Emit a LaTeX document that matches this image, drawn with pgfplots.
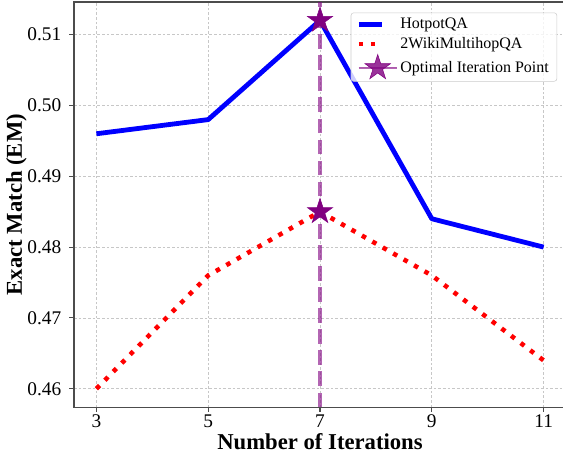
\documentclass[border=0pt]{standalone}
\usepackage{pgfplots}
\pgfplotsset{compat=1.18}
\usepackage{fontspec}
\setmainfont{Liberation Serif}
\definecolor{mplpurple}{RGB}{128,0,128}
\definecolor{mplblue}{RGB}{0,0,255}
\definecolor{mplred}{RGB}{255,0,0}
\pgfdeclareplotmark{fstar}{%
  \pgfpathmoveto{\pgfqpointpolar{90}{\pgfplotmarksize}}%
  \pgfpathlineto{\pgfqpointpolar{126}{0.382\pgfplotmarksize}}%
  \pgfpathlineto{\pgfqpointpolar{162}{\pgfplotmarksize}}%
  \pgfpathlineto{\pgfqpointpolar{198}{0.382\pgfplotmarksize}}%
  \pgfpathlineto{\pgfqpointpolar{234}{\pgfplotmarksize}}%
  \pgfpathlineto{\pgfqpointpolar{270}{0.382\pgfplotmarksize}}%
  \pgfpathlineto{\pgfqpointpolar{306}{\pgfplotmarksize}}%
  \pgfpathlineto{\pgfqpointpolar{342}{0.382\pgfplotmarksize}}%
  \pgfpathlineto{\pgfqpointpolar{18}{\pgfplotmarksize}}%
  \pgfpathlineto{\pgfqpointpolar{54}{0.382\pgfplotmarksize}}%
  \pgfpathclose
  \pgfusepathqfillstroke}
\begin{document}
\begin{tikzpicture}
\begin{axis}[
  scale only axis,
  width=368.8pt, height=303.75pt,
  xmin=2.6, xmax=11.4,
  ymin=0.4574, ymax=0.5146,
  xtick={3,5,7,9,11},
  ytick={0.46,0.47,0.48,0.49,0.50,0.51},
  yticklabel style={xshift=-2.5pt, /pgf/number format/.cd, fixed, fixed zerofill, precision=2},
  xticklabel style={yshift=1.5pt},
  /pgf/number format/assume math mode=true,
  tick label style={font=\fontsize{14.5}{16}\selectfont},
  tick align=outside, tick pos=left,
  major tick length=3.5pt,
  every tick/.style={black!70, line width=0.8pt},
  axis line style={black!70, line width=0.9pt},
  grid=major,
  major grid style={dash pattern=on 2pt off 1.5pt, black!22, line width=0.5pt},
  xlabel={Number of Iterations},
  ylabel={Exact Match (EM)},
  every axis x label/.style={at={(axis description cs:0.5,-0.084)}, anchor=center, font=\fontsize{17}{20}\selectfont\bfseries},
  every axis y label/.style={at={(axis description cs:-0.117,0.5)}, rotate=90, anchor=center, font=\fontsize{17}{20}\selectfont\bfseries},
  legend style={at={(0.982,0.974)}, anchor=north east,
    font=\fontsize{12}{14}\selectfont,
    draw=black!20, rounded corners=2pt, fill=white, fill opacity=0.8, text opacity=1,
    inner xsep=4pt, inner ysep=2pt, row sep=1pt},
  legend cell align=left,
]
\addplot[mplblue, line width=3.6pt, line join=round] coordinates {
  (3,0.496) (5,0.498) (7,0.512) (9,0.484) (11,0.480)};
\addlegendentry{HotpotQA}
\addplot[mplred, line width=3.4pt, dash pattern=on 3.4pt off 5.6pt] coordinates {
  (3,0.460) (5,0.476) (7,0.485) (9,0.476) (11,0.464)};
\addlegendentry{2WikiMultihopQA}
\addplot[mplpurple, draw opacity=0.6, line width=3pt, dash pattern=on 11pt off 4.8pt, forget plot] coordinates {
  (7,0.4574) (7,0.5146)};
\addplot[only marks, mark=fstar, mark size=10pt, draw=mplpurple, fill=mplpurple,
  legend image code/.code={
    \draw[mplpurple, draw opacity=0.6, line width=1.5pt] (0cm,0cm) -- (1cm,0cm);
    \draw[mplpurple, fill=mplpurple] plot[mark=fstar, mark size=10pt] coordinates {(0.5cm,0cm)};
  }] coordinates {(7,0.512) (7,0.485)};
\addlegendentry{Optimal Iteration Point}
\end{axis}
\pgfresetboundingbox
\path ([xshift=-55.5pt,yshift=-36.75pt]current axis.south west) rectangle ([xshift=-2.25pt,yshift=1.5pt]current axis.north east);
\end{tikzpicture}
\end{document}
